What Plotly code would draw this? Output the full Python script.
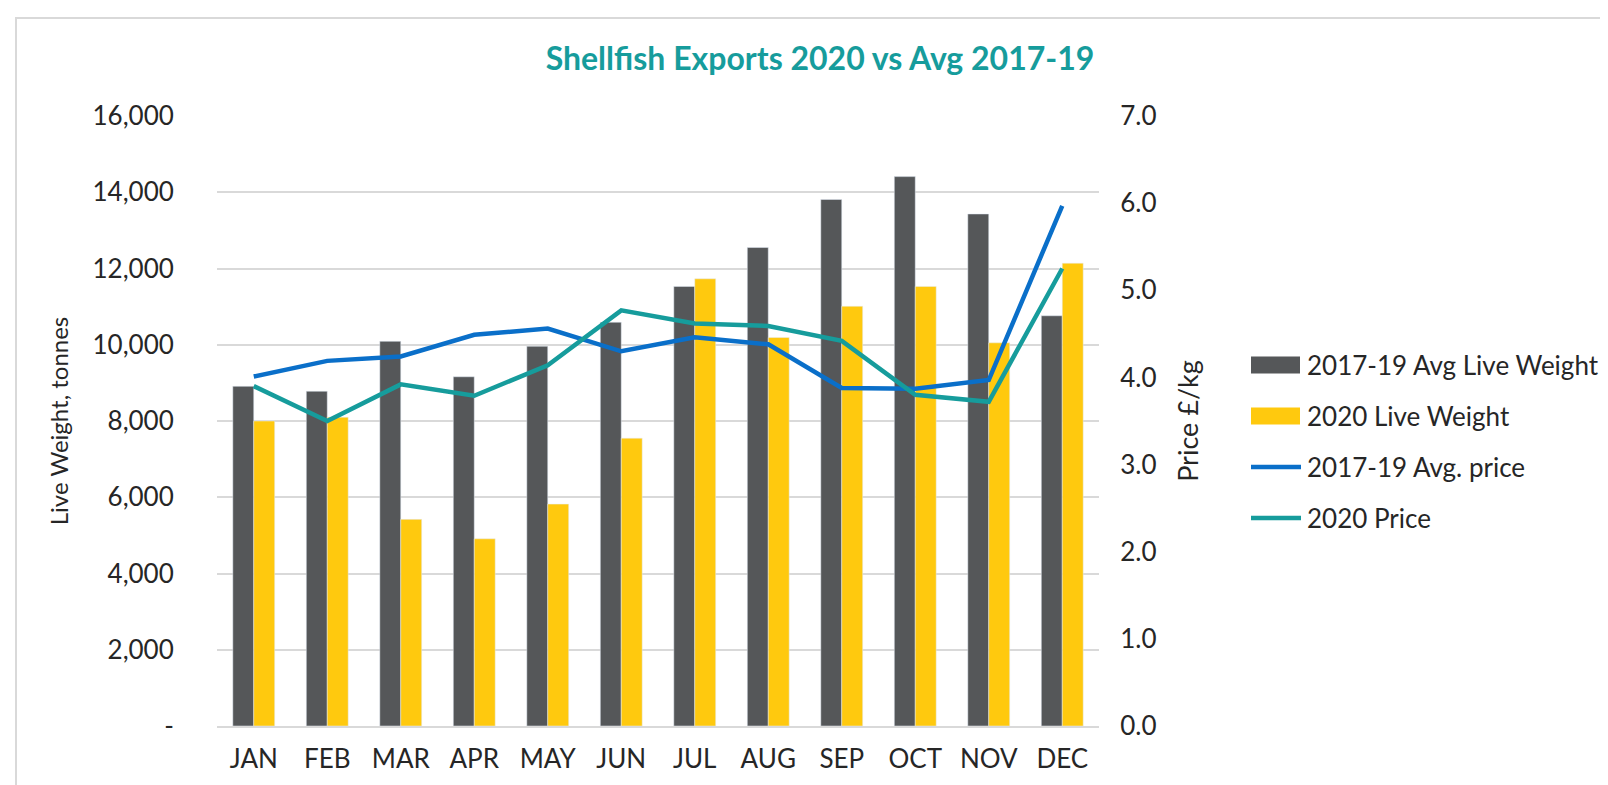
import plotly.graph_objects as go

months = ["JAN", "FEB", "MAR", "APR", "MAY", "JUN", "JUL", "AUG", "SEP", "OCT", "NOV", "DEC"]
avg_weight = [8910, 8780, 10090, 9160, 9960, 10590, 11530, 12550, 13810, 14410, 13430, 10760]
weight_2020 = [8000, 8100, 5420, 4910, 5820, 7550, 11730, 10190, 11010, 11530, 10050, 12140]
avg_price = [4.01, 4.19, 4.24, 4.49, 4.56, 4.30, 4.46, 4.38, 3.88, 3.87, 3.97, 5.97]
price_2020 = [3.90, 3.50, 3.92, 3.79, 4.14, 4.77, 4.62, 4.59, 4.42, 3.80, 3.72, 5.25]
left_ticks = [0, 2000, 4000, 6000, 8000, 10000, 12000, 14000, 16000]
left_tick_text = ["-", "2,000", "4,000", "6,000", "8,000", "10,000", "12,000", "14,000", "16,000"]
series_names = ["2017-19 Avg Live Weight", "2020 Live Weight", "2017-19 Avg. price", "2020 Price"]

FONT = "Lato, 'Open Sans', sans-serif"
TXT = "#262626"
C_DARK, C_YEL, C_BLUE, C_TEAL = "#555759", "#FFC90E", "#0A6FC9", "#169C9C"

fig = go.Figure()
fig.add_trace(go.Bar(x=months, y=avg_weight, name=series_names[0], marker=dict(color=C_DARK)))
fig.add_trace(go.Bar(x=months, y=weight_2020, name=series_names[1], marker=dict(color=C_YEL)))
fig.add_trace(go.Scatter(x=months, y=avg_price, name=series_names[2], mode="lines",
                         line=dict(color=C_BLUE, width=4.5), yaxis="y2"))
fig.add_trace(go.Scatter(x=months, y=price_2020, name=series_names[3], mode="lines",
                         line=dict(color=C_TEAL, width=4.5), yaxis="y2"))

L, R, T, B = 209, 1091, 108, 718
W, H = 1608, 785
pw, ph = R - L, B - T


def px(x):
    return (x - L) / pw


def py(y):
    return (B - y) / ph


fig.update_layout(
    width=W, height=H,
    margin=dict(l=L, r=W - R, t=T, b=H - B),
    paper_bgcolor="white", plot_bgcolor="white",
    font=dict(family=FONT, size=26, color=TXT),
    barmode="group", bargap=0.43, bargroupgap=0,
    showlegend=False,
    title=dict(text="<b>Shellfish Exports 2020 vs Avg 2017-19</b>", x=812 / W, xanchor="center",
               y=1 - 51 / H, yanchor="middle", font=dict(size=32, color=C_TEAL, family=FONT)),
    xaxis=dict(showgrid=False, showline=True, linecolor="#D9D9D9", linewidth=2,
               ticks="outside", ticklen=9, tickcolor="rgba(0,0,0,0)",
               tickfont=dict(size=26, color=TXT)),
    yaxis=dict(range=[0, 16000], tickvals=left_ticks, ticktext=left_tick_text,
               showgrid=True, gridcolor="#D9D9D9", gridwidth=2, zeroline=False,
               ticks="outside", ticklen=37, tickcolor="rgba(0,0,0,0)",
               tickfont=dict(size=26, color=TXT),
               title=dict(text="Live Weight, tonnes", standoff=17, font=dict(size=24, color=TXT))),
    yaxis2=dict(range=[0, 7], dtick=1, tickformat=".1f", overlaying="y", side="right",
                showgrid=False, zeroline=False,
                ticks="outside", ticklen=15, tickcolor="rgba(0,0,0,0)",
                tickfont=dict(size=26, color=TXT),
                title=dict(text="Price £/kg", standoff=23, font=dict(size=27, color=TXT))),
)

# outer chart-area border
fig.add_shape(type="rect", xref="paper", yref="paper",
              x0=px(8), x1=px(1620), y0=py(800), y1=py(10),
              line=dict(color="#D9D9D9", width=2), fillcolor="rgba(0,0,0,0)", layer="below")

# legend (drawn manually to match wide swatches)
leg_y = [357, 408, 459, 510]
leg_colors = [C_DARK, C_YEL, C_BLUE, C_TEAL]
for i, (name, col, yc) in enumerate(zip(series_names, leg_colors, leg_y)):
    if i < 2:
        fig.add_shape(type="rect", xref="paper", yref="paper",
                      x0=px(1243), x1=px(1292), y0=py(yc + 8.5), y1=py(yc - 8.5),
                      line=dict(width=0), fillcolor=col)
    else:
        fig.add_shape(type="line", xref="paper", yref="paper",
                      x0=px(1243), x1=px(1293), y0=py(yc), y1=py(yc),
                      line=dict(color=col, width=4.5))
    fig.add_annotation(text=name, xref="paper", yref="paper", x=px(1297), y=py(yc),
                       xanchor="left", yanchor="middle", showarrow=False,
                       font=dict(size=26, color=TXT, family=FONT))

fig.write_html("out.html")
